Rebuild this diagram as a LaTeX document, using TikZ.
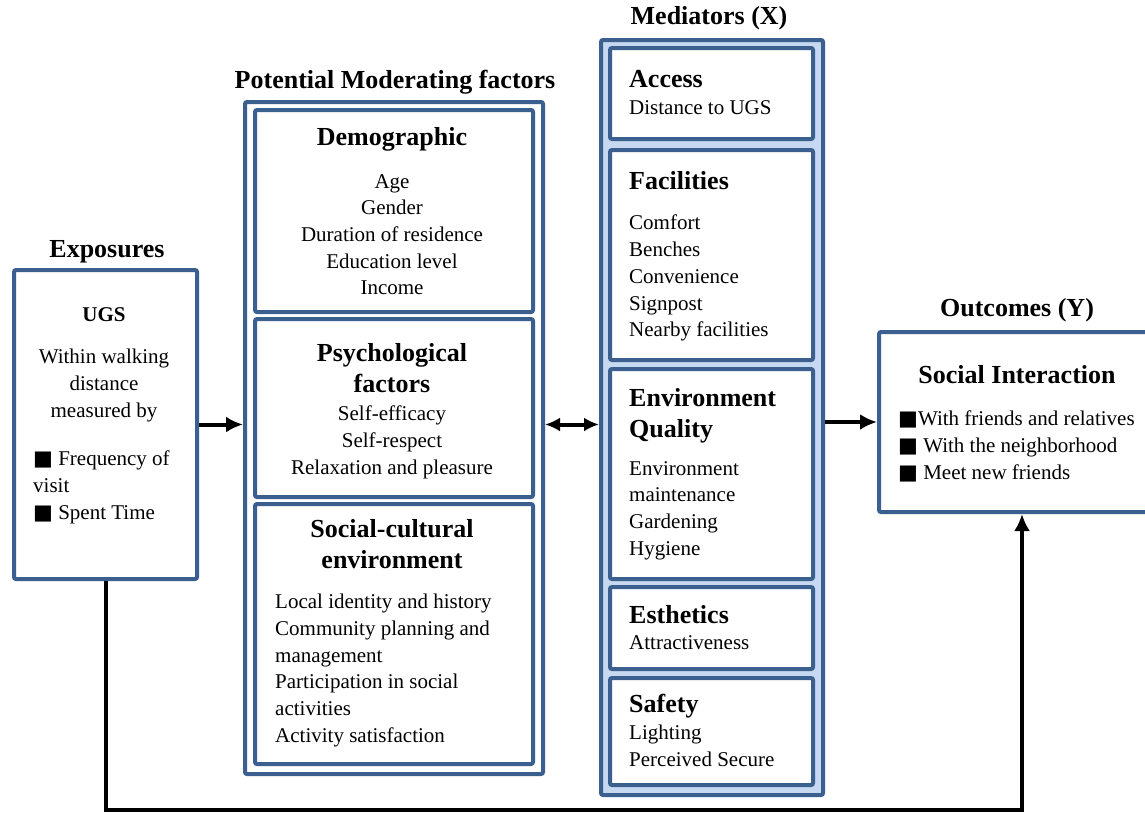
\documentclass[tikz,border=0pt]{standalone}
\usepackage{fontspec}
\setmainfont{Liberation Serif}
\newfontfamily\squarefont{DejaVu Sans}
\usetikzlibrary{arrows.meta}
\usetikzlibrary{positioning}
\definecolor{frameblue}{HTML}{3B5F8E}
\definecolor{paleblue}{HTML}{C6D9F1}
\newcommand\sqmark{{\squarefont\fontsize{21}{20}\selectfont ■}}
\tikzset{panel/.style = {draw=frameblue, line width=4pt, rounded corners=2pt,
                         fill=white, inner sep=0pt, anchor=north west},
         heading/.style = {font=\fontsize{26}{31}\selectfont\bfseries, inner sep=0pt},
         body/.style = {font=\fontsize{21}{26.7}\selectfont, inner sep=0pt},
         flow/.style = {line width=4pt, -{Latex[length=17pt, width=16pt]}}}

\begin{document}
\begin{tikzpicture}[x=1pt, y=-1pt]
    \useasboundingbox [fill=white] (0, 0) rectangle (1145, 814);

    % exposures
    \node [heading] (exptitle) at (107, 252) {Exposures};
    \node [panel, minimum width=183pt, minimum height=309pt] (expbox) at (12, 268) {};
    \node [font=\fontsize{21}{26}\selectfont\bfseries, inner sep=0pt] (ugs) at (104, 315) {UGS};
    \node [body, align=center, anchor=north] (walk) at (104, 349) {Within walking\\distance\\measured by};
    \node [body, align=left, anchor=north west] (freq) at (33, 451) {\sqmark\ Frequency of\\visit\\\sqmark\ Spent Time};

    % moderators
    \node [heading] (modtitle) at (395, 82) {Potential Moderating factors};
    \node [panel, minimum width=298pt, minimum height=672pt] (modbox) at (243, 100) {};
    \node [panel, minimum width=278pt, minimum height=202pt] (demobox) at (253, 108) {};
    \node [panel, minimum width=278pt, minimum height=178pt] (psybox) at (253, 317) {};
    \node [panel, minimum width=278pt, minimum height=260pt] (socbox) at (253, 502) {};

    \node [heading] (demohead) at (392, 139) {Demographic};
    \node [body, align=center, anchor=north] (demotext) at (392, 174)
      {Age\\Gender\\Duration of residence\\Education level\\Income};
    \node [heading, align=center, anchor=north] (psyhead) at (392, 343) {Psychological\\factors};
    \node [body, align=center, anchor=north] (psytext) at (392, 406)
      {Self-efficacy\\Self-respect\\Relaxation and pleasure};
    \node [heading, align=center, anchor=north] (sochead) at (392, 519) {Social-cultural\\environment};
    \node [body, align=left, anchor=north west] (soctext) at (275, 594)
      {Local identity and history\\Community planning and\\management\\Participation in social\\activities\\Activity satisfaction};

    % mediators
    \node [heading] (medtitle) at (709, 18) {Mediators (X)};
    \node [panel, fill=paleblue, minimum width=222pt, minimum height=755pt] (medbox) at (599, 38) {};
    \node [panel, minimum width=203pt, minimum height=91pt] (accbox) at (608, 46) {};
    \node [panel, minimum width=203pt, minimum height=210pt] (facbox) at (608, 148) {};
    \node [panel, minimum width=203pt, minimum height=210pt] (envbox) at (608, 367) {};
    \node [panel, minimum width=203pt, minimum height=82pt] (estbox) at (608, 585) {};
    \node [panel, minimum width=203pt, minimum height=107pt] (safbox) at (608, 676) {};

    \node [heading, anchor=north west] (acchead) at (629, 70) {Access};
    \node [body, anchor=north west] (acctext) at (629, 100) {Distance to UGS};
    \node [heading, anchor=north west] (fachead) at (629, 171) {Facilities};
    \node [body, align=left, anchor=north west] (factext) at (629, 215)
      {Comfort\\Benches\\Convenience\\Signpost\\Nearby facilities};
    \node [heading, align=left, anchor=north west] (envhead) at (629, 388) {Environment\\Quality};
    \node [body, align=left, anchor=north west] (envtext) at (629, 461)
      {Environment\\maintenance\\Gardening\\Hygiene};
    \node [heading, anchor=north west] (esthead) at (629, 605) {Esthetics};
    \node [body, anchor=north west] (esttext) at (629, 635) {Attractiveness};
    \node [heading, anchor=north west] (safhead) at (629, 694) {Safety};
    \node [body, align=left, anchor=north west] (saftext) at (629, 725) {Lighting\\Perceived Secure};

    % outcomes
    \node [heading] (outtitle) at (1017, 310) {Outcomes (Y)};
    \node [panel, minimum width=286pt, minimum height=180pt] (outbox) at (877, 330) {};
    \node [heading] (outhead) at (1017, 375) {Social Interaction};
    \node [body, align=left, anchor=north west] (outtext) at (898, 411)
      {\sqmark With friends and relatives\\\sqmark\ With the neighborhood\\\sqmark\ Meet new friends};

    % connectors
    \coordinate (floor) at (0, 810);
    \draw [flow] (expbox.east) -- (expbox.east -| modbox.west);
    \draw [line width=4pt, {Latex[length=15pt, width=14pt]}-{Latex[length=15pt, width=14pt]}]
      (expbox.east -| modbox.east) -- (expbox.east -| medbox.west);
    \draw [flow] (outbox.west -| medbox.east) -- (outbox.west);
    \draw [flow] (expbox.south) -- (expbox.south |- floor) -| (outbox.south);
  \end{tikzpicture}
\end{document}
